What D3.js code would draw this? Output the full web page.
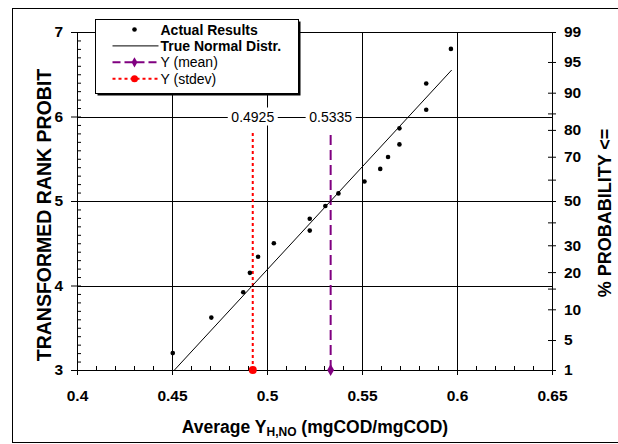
<!DOCTYPE html>
<html>
<head>
<meta charset="utf-8">
<script src="https://cdn.jsdelivr.net/npm/d3@7"></script>
<style>
  body { margin: 0; background: #fff; }
  svg text { font-family: "Liberation Sans", Arial, sans-serif; }
</style>
</head>
<body>
<div id="chart"></div>
<script>
// data
var yieldValues = [0.4504, 0.4707, 0.4875, 0.4910, 0.4953, 0.5036, 0.5225, 0.5225, 0.5307,
  0.5376, 0.5513, 0.5596, 0.5637, 0.5697, 0.5697, 0.5838, 0.5838, 0.5968]
var rankProbit = [3.20, 3.62, 3.92, 4.15, 4.34, 4.50, 4.65, 4.79, 4.94,
  5.09, 5.23, 5.38, 5.52, 5.67, 5.86, 6.08, 6.39, 6.80]
var normalLineX = [0.4513, 0.5972]
var normalLineP = [3, 6.55]
var meanValue = 0.5335
var stdevValue = 0.4925
var markerTopProbit = 5.82

var xTicks = [0.4, 0.45, 0.5, 0.55, 0.6, 0.65]
var xTickLabels = ['0.4', '0.45', '0.5', '0.55', '0.6', '0.65']
var yTicks = [3, 4, 5, 6, 7]
var probTicks = [1, 5, 10, 15, 20, 30, 40, 50, 60, 70, 80, 85, 90, 95, 99]
var probLabels = [1, 5, 10, 20, 30, 50, 70, 80, 90, 95, 99]

var legendItems = ['Actual Results', 'True Normal Distr.', 'Y (mean)', 'Y (stdev)']

// inverse normal (Abramowitz & Stegun 26.2.23)
function normInv(p) {
  var q = p < 0.5 ? p : 1 - p
  var t = Math.sqrt(-2 * Math.log(q))
  var z = t - (2.515517 + 0.802853 * t + 0.010328 * t * t) /
    (1 + 1.432788 * t + 0.189269 * t * t + 0.001308 * t * t * t)
  return p < 0.5 ? -z : z
}
function probToProbit(pc) {
  return Math.max(3, Math.min(7, 5 + normInv(pc / 100)))
}

var W = 618, H = 444
var svg = d3.select('#chart').append('svg').attr('width', W).attr('height', H)

var x = d3.scaleLinear().domain([0.4, 0.65]).range([77, 552])
var y = d3.scaleLinear().domain([3, 7]).range([370, 32])

// outer frame (runs off the right/bottom edge like the original)
svg.append('rect')
  .attr('x', 12.5).attr('y', 8.5).attr('width', 640).attr('height', 434)
  .attr('fill', 'none').attr('stroke', '#000').attr('stroke-width', 1)

// gridlines
svg.append('g').selectAll('line')
  .data([4, 5, 6, 7])
  .enter().append('line')
  .attr('x1', x(0.4)).attr('x2', x(0.65))
  .attr('y1', function(d) { return Math.round(y(d)) + 0.5 })
  .attr('y2', function(d) { return Math.round(y(d)) + 0.5 })
  .attr('stroke', '#000')
svg.append('g').selectAll('line')
  .data([0.45, 0.5, 0.55, 0.6])
  .enter().append('line')
  .attr('x1', function(d) { return Math.round(x(d)) + 0.5 })
  .attr('x2', function(d) { return Math.round(x(d)) + 0.5 })
  .attr('y1', y(3)).attr('y2', y(7))
  .attr('stroke', '#000')

// mean and stdev markers
svg.append('line')
  .attr('x1', x(stdevValue)).attr('x2', x(stdevValue))
  .attr('y1', y(3)).attr('y2', y(markerTopProbit))
  .attr('stroke', '#ff0000').attr('stroke-width', 2).attr('stroke-dasharray', '3,3')
svg.append('line')
  .attr('x1', x(meanValue)).attr('x2', x(meanValue))
  .attr('y1', y(3)).attr('y2', y(markerTopProbit))
  .attr('stroke', '#800080').attr('stroke-width', 2).attr('stroke-dasharray', '10,5')

// value labels on the 6 gridline
var valLabels = svg.append('g').selectAll('g')
  .data([stdevValue, meanValue])
  .enter().append('g')
  .attr('transform', function(d) { return 'translate(' + x(d) + ',' + y(6) + ')' })
valLabels.append('rect')
  .attr('x', -25).attr('y', -9).attr('width', 50).attr('height', 18)
  .attr('fill', '#fff')
valLabels.append('text')
  .attr('text-anchor', 'middle').attr('dy', '0.36em')
  .style('font-size', '14px')
  .text(function(d) { return d.toFixed(4) })

// normal distribution line
var line = d3.line()
  .x(function(d) { return x(d[0]) })
  .y(function(d) { return y(d[1]) })
svg.append('path')
  .datum(d3.zip(normalLineX, normalLineP))
  .attr('fill', 'none').attr('stroke', '#000').attr('stroke-width', 1)
  .attr('d', line)

// actual results
svg.append('g').selectAll('circle')
  .data(d3.zip(yieldValues, rankProbit))
  .enter().append('circle')
  .attr('cx', function(d) { return x(d[0]) })
  .attr('cy', function(d) { return y(d[1]) })
  .attr('r', 2.3)
  .attr('fill', '#000')

// axes
var axisFont = function(g) {
  g.selectAll('text').style('font-size', '15.5px').style('font-weight', 'bold').attr('fill', '#000')
  g.selectAll('line').attr('stroke', '#000')
  g.select('.domain').attr('stroke', '#000')
}

svg.append('g')
  .attr('transform', 'translate(' + x(0.4) + ',0)')
  .call(d3.axisLeft(y).tickValues(yTicks).tickSize(6).tickSizeOuter(0).tickPadding(8)
    .tickFormat(d3.format('d')))
  .call(axisFont)
svg.append('g')
  .attr('transform', 'translate(' + x(0.4) + ',0)')
  .call(d3.axisRight(y).tickValues(d3.range(30, 71).map(function(d) { return d / 10 }))
    .tickSize(4).tickSizeOuter(0).tickFormat(''))
  .call(axisFont)

svg.append('g')
  .attr('transform', 'translate(0,' + y(3) + ')')
  .call(d3.axisBottom(x).tickValues(xTicks).tickSize(5).tickSizeOuter(0).tickPadding(15)
    .tickFormat(function(d, i) { return xTickLabels[i] }))
  .call(axisFont)
svg.append('g')
  .attr('transform', 'translate(0,' + y(3) + ')')
  .call(d3.axisTop(x).tickValues(d3.range(40, 66).map(function(d) { return d / 100 }))
    .tickSize(4).tickSizeOuter(0).tickFormat(''))
  .call(axisFont)

svg.append('g')
  .attr('transform', 'translate(' + x(0.65) + ',0)')
  .call(d3.axisRight(y).tickValues(probTicks.map(probToProbit)).tickSize(4).tickSizeOuter(0)
    .tickPadding(8)
    .tickFormat(function(d, i) {
      return probLabels.indexOf(probTicks[i]) >= 0 ? probTicks[i] : ''
    }))
  .call(axisFont)
svg.append('g')
  .attr('transform', 'translate(' + x(0.65) + ',0)')
  .call(d3.axisLeft(y).tickValues(probTicks.map(probToProbit)).tickSize(4).tickSizeOuter(0)
    .tickFormat(''))
  .call(axisFont)

// markers at the base of the vertical lines
svg.append('circle')
  .attr('cx', x(stdevValue)).attr('cy', y(3)).attr('r', 4).attr('fill', '#ff0000')
svg.append('path')
  .attr('d', d3.symbol(d3.symbolDiamond, 40))
  .attr('transform', 'translate(' + x(meanValue) + ',' + y(3) + ')')
  .attr('fill', '#800080')

// axis titles
svg.append('text')
  .attr('transform', 'translate(51,215)rotate(-90)')
  .attr('text-anchor', 'middle')
  .style('font-size', '19.5px').style('font-weight', 'bold')
  .text('TRANSFORMED RANK PROBIT')
svg.append('text')
  .attr('transform', 'translate(611,213)rotate(-90)')
  .attr('text-anchor', 'middle')
  .style('font-size', '18px').style('font-weight', 'bold')
  .text('% PROBABILITY <=')
var xt = svg.append('text')
  .attr('x', 315).attr('y', 433)
  .attr('text-anchor', 'middle')
  .style('font-size', '17.5px').style('font-weight', 'bold')
xt.append('tspan').text('Average Y')
xt.append('tspan').attr('dy', 3).style('font-size', '12px').text('H,NO')
xt.append('tspan').attr('dy', -3).text(' (mgCOD/mgCOD)')

// legend
var lg = svg.append('g').attr('transform', 'translate(95.5,19.5)')
lg.append('rect').attr('x', 2).attr('y', 2).attr('width', 203).attr('height', 74).attr('fill', '#000')
lg.append('rect').attr('x', 0).attr('y', 0).attr('width', 203).attr('height', 74)
  .attr('fill', '#fff').attr('stroke', '#000').attr('stroke-width', 1)

var rows = lg.selectAll('g.item')
  .data(legendItems)
  .enter().append('g')
  .attr('class', 'item')
  .attr('transform', function(d, i) { return 'translate(0,' + (10 + i * 16.4) + ')' })
rows.append('text')
  .attr('x', 65).attr('dy', '0.36em')
  .style('font-size', '14px')
  .style('font-weight', function(d, i) { return i < 2 ? 'bold' : 'normal' })
  .text(function(d) { return d })

rows.filter(function(d, i) { return i === 0 }).append('circle')
  .attr('cx', 39).attr('cy', 0).attr('r', 2.3).attr('fill', '#000')
rows.filter(function(d, i) { return i === 1 }).append('line')
  .attr('x1', 17).attr('x2', 63).attr('stroke', '#000')
var meanRow = rows.filter(function(d, i) { return i === 2 })
meanRow.append('line')
  .attr('x1', 17).attr('x2', 63).attr('stroke', '#800080').attr('stroke-width', 2)
  .attr('stroke-dasharray', '8,4')
meanRow.append('path')
  .attr('d', d3.symbol(d3.symbolDiamond, 30))
  .attr('transform', 'translate(39,0)').attr('fill', '#800080')
var sdRow = rows.filter(function(d, i) { return i === 3 })
sdRow.append('line')
  .attr('x1', 17).attr('x2', 63).attr('stroke', '#ff0000').attr('stroke-width', 2)
  .attr('stroke-dasharray', '3,3')
sdRow.append('circle')
  .attr('cx', 39).attr('cy', 0).attr('r', 3.5).attr('fill', '#ff0000')
</script>
</body>
</html>
